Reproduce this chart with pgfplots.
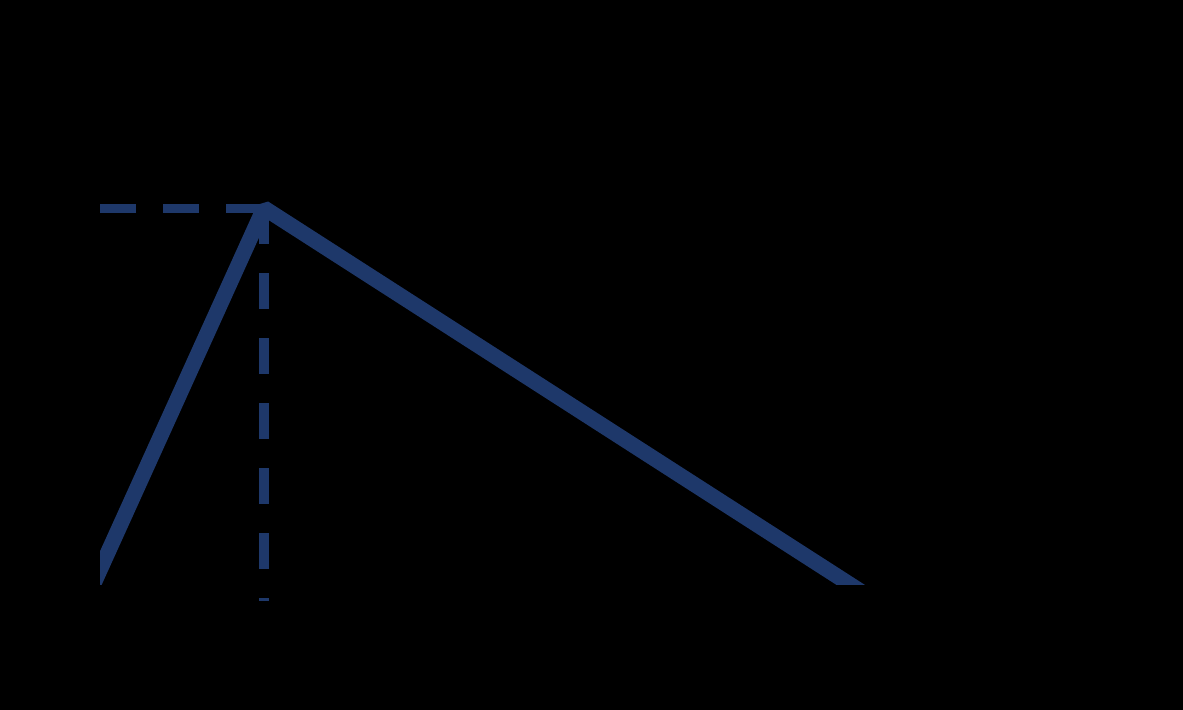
\documentclass[border=0pt]{standalone}
\usepackage{pgfplots}
\pgfplotsset{compat=1.18}
\definecolor{lineblue}{HTML}{1E386A}
\pgfplotsset{
  base/.style={
    scale only axis,
    width=541.5pt, height=292.5pt,
    xmin=0, xmax=10.83, ymin=0, ymax=5.85,
    at={(50pt,62.5pt)}, anchor=south west,
    axis line style={draw=none},
    xtick=\empty, ytick=\empty,
  }
}
\begin{document}
\begin{tikzpicture}
\fill[black] (0,0) rectangle (591.5pt,355pt);
% dashed guides (not clipped)
\begin{axis}[base, clip=false]
\addplot[lineblue, line width=4.6pt, dash pattern=on 18pt off 13.5pt] coordinates {(0,3.765) (1.64,3.765)};
\addplot[lineblue, line width=4.6pt, dash pattern=on 18pt off 14.5pt] coordinates {(1.64,3.765) (1.64,-0.16)};
\end{axis}
% triangular line (clipped to the plot area)
\begin{axis}[base]
\addplot[lineblue, line width=7.7pt, line join=bevel] coordinates {(-0.2,-0.29) (1.64,3.77) (8.0,-0.316)};
\end{axis}
\pgfresetboundingbox
\path[use as bounding box] (0,0) rectangle (591.5pt,355pt);
\end{tikzpicture}
\end{document}
